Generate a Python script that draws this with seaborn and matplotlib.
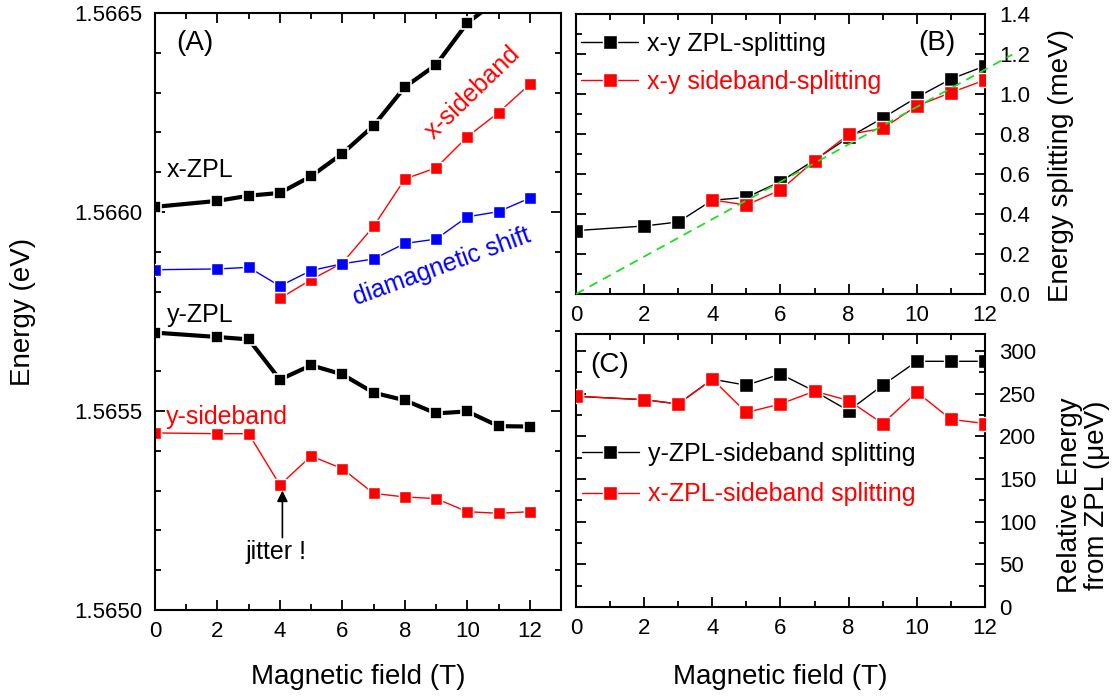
import numpy as np
import matplotlib
matplotlib.use("Agg")
import matplotlib.pyplot as plt
from matplotlib.ticker import MultipleLocator, FormatStrFormatter
import seaborn as sns

# ---- magnetic field (T) ----
field = [0, 2, 3, 4, 5, 6, 7, 8, 9, 10, 11, 12]
field_sb = [4, 5, 6, 7, 8, 9, 10, 11, 12]

# ---- (A) line energies (eV) ----
x_zpl = [1.566013, 1.566028, 1.566041, 1.566048, 1.566090, 1.566147,
         1.566217, 1.566314, 1.566370, 1.566475, 1.566535, 1.566600]
y_zpl = [1.565697, 1.565686, 1.565680, 1.565579, 1.565615, 1.565592,
         1.565546, 1.565527, 1.565494, 1.565499, 1.565462, 1.565461]
y_sideband = [1.565445, 1.565443, 1.565443, 1.565314, 1.565387, 1.565355,
              1.565293, 1.565284, 1.565280, 1.565247, 1.565243, 1.565247]
x_sideband = [1.565783, 1.565830, 1.565872, 1.565964, 1.566083, 1.566111,
              1.566189, 1.566250, 1.566321]
diamag = [1.565855, 1.565857, 1.565861, 1.565814, 1.565853, 1.565870,
          1.565882, 1.565921, 1.565932, 1.565988, 1.566001, 1.566035]

# ---- (B) x-y splittings (meV) ----
zpl_split = [0.317, 0.340, 0.360, 0.469, 0.483, 0.562,
             0.670, 0.783, 0.880, 0.983, 1.075, 1.140]
sb_split = [0.470, 0.445, 0.520, 0.667, 0.798, 0.828, 0.940, 1.007, 1.070]
fit_field = [0, 12.8]
fit_split = [0.0, 1.197]

# ---- (C) ZPL-sideband separation (ueV) ----
y_zpl_sb = [247, 243, 238, 267, 260, 273, 253, 230, 260, 288, 288, 288]
x_zpl_sb = [247, 243, 238, 267, 228, 238, 253, 242, 215, 252, 220, 215]

sns.set_theme(style="ticks")
plt.rcParams["font.family"] = ["Liberation Sans", "DejaVu Sans"]
plt.rcParams["axes.linewidth"] = 1.5
plt.rcParams["text.color"] = "black"
plt.rcParams["axes.labelcolor"] = "black"
plt.rcParams["xtick.color"] = "black"
plt.rcParams["ytick.color"] = "black"
plt.rcParams["axes.edgecolor"] = "black"

RED = "#ff0000"
BLUE = "#0000ff"
GREEN = "#22dd22"
TICK_FS = 16
LABEL_FS = 20
TEXT_FS = 18

fig = plt.figure(figsize=(11.18, 6.97), dpi=100)
axA = fig.add_axes([0.1386, 0.1248, 0.3632, 0.8565])
axB = fig.add_axes([0.5152, 0.5782, 0.3658, 0.4017])
axC = fig.add_axes([0.5152, 0.1291, 0.3658, 0.3917])


def style_ticks(ax):
    ax.tick_params(which="both", direction="in", top=True, bottom=True,
                   left=True, right=True, width=1.3, colors="black",
                   labelsize=TICK_FS)
    ax.tick_params(which="major", length=7)
    ax.tick_params(which="minor", length=4)
    for sp in ax.spines.values():
        sp.set_color("black")
        sp.set_linewidth(1.5)
    ax.set_facecolor("white")


def series(ax, xs, ys, color, lw, ms, mew, label=None, z=2):
    sns.lineplot(x=xs, y=ys, ax=ax, color=color, linewidth=lw,
                 marker="s", markersize=ms, markeredgecolor="white",
                 markeredgewidth=mew, estimator=None, sort=False,
                 label=label, zorder=z)


# ---------------- panel A ----------------
series(axA, field, x_zpl, "black", 3.0, 8.2, 1.2)
series(axA, field, y_zpl, "black", 3.0, 8.2, 1.2)
series(axA, field, y_sideband, RED, 1.0, 8.0, 1.0)
series(axA, field_sb, x_sideband, RED, 1.0, 8.0, 1.0)
series(axA, field, diamag, BLUE, 1.0, 8.0, 1.0, z=3)

axA.set_xlim(0, 13)
axA.set_ylim(1.5650, 1.5665)
axA.xaxis.set_major_locator(MultipleLocator(2))
axA.xaxis.set_minor_locator(MultipleLocator(1))
axA.yaxis.set_major_locator(MultipleLocator(0.0005))
axA.yaxis.set_minor_locator(MultipleLocator(0.0001))
axA.yaxis.set_major_formatter(FormatStrFormatter("%.4f"))
style_ticks(axA)
axA.tick_params(axis="y", pad=9)
axA.tick_params(axis="x", pad=8)
axA.set_xlabel("Magnetic field (T)", fontsize=LABEL_FS, va="center")
axA.xaxis.set_label_coords(0.5, -0.112)
axA.set_ylabel("Energy (eV)", fontsize=LABEL_FS, va="center")
axA.yaxis.set_label_coords(-0.325, 0.5)

axA.text(0.052, 0.95, "(A)", transform=axA.transAxes, fontsize=LABEL_FS,
         ha="left", va="center")
axA.text(0.029, 0.737, "x-ZPL", transform=axA.transAxes, fontsize=TEXT_FS,
         ha="left", va="center")
axA.text(0.029, 0.494, "y-ZPL", transform=axA.transAxes, fontsize=TEXT_FS,
         ha="left", va="center")
axA.text(0.027, 0.323, "y-sideband", transform=axA.transAxes,
         fontsize=TEXT_FS, color=RED, ha="left", va="center")
axA.text(0.783, 0.866, "x-sideband", transform=axA.transAxes,
         fontsize=TEXT_FS, color=RED, ha="center", va="center",
         rotation=44, rotation_mode="anchor")
axA.text(0.706, 0.575, "diamagnetic shift", transform=axA.transAxes,
         fontsize=TEXT_FS, color=BLUE, ha="center", va="center",
         rotation=20, rotation_mode="anchor")
axA.text(0.298, 0.0977, "jitter !", transform=axA.transAxes,
         fontsize=TEXT_FS, ha="center", va="center")
axA.annotate("", xy=(4.08, y_sideband[3]), xytext=(4.08, 1.565182),
             arrowprops=dict(arrowstyle="-|>", color="black", lw=1.2,
                             shrinkA=0, shrinkB=4, mutation_scale=16))

# ---------------- panel B ----------------
series(axB, field, zpl_split, "black", 1.0, 9.5, 1.0,
       label="x-y ZPL-splitting", z=2)
series(axB, field_sb, sb_split, RED, 1.0, 9.5, 1.0,
       label="x-y sideband-splitting", z=3)
sns.lineplot(x=fit_field, y=fit_split, ax=axB, color=GREEN, linewidth=1.3,
             linestyle=(0, (5, 3.5)), clip_on=False, zorder=4,
             estimator=None, sort=False)

axB.set_xlim(0, 12)
axB.set_ylim(0, 1.4)
axB.xaxis.set_major_locator(MultipleLocator(2))
axB.xaxis.set_minor_locator(MultipleLocator(1))
axB.yaxis.set_major_locator(MultipleLocator(0.2))
axB.yaxis.set_minor_locator(MultipleLocator(0.1))
axB.yaxis.set_major_formatter(FormatStrFormatter("%.1f"))
axB.yaxis.tick_right()
style_ticks(axB)
axB.tick_params(axis="y", labelleft=False, labelright=True, pad=10)
axB.tick_params(axis="x", pad=8)
axB.yaxis.set_label_position("right")
axB.set_ylabel("Energy splitting (meV)", fontsize=LABEL_FS, va="center",
               ha="center")
axB.yaxis.set_label_coords(1.185, 0.46)
axB.set_xlabel("")
axB.text(0.882, 0.896, "(B)", transform=axB.transAxes, fontsize=LABEL_FS,
         ha="center", va="center")
axB.legend(loc="upper left", bbox_to_anchor=(0.012, 0.936),
           frameon=False, fontsize=TEXT_FS, handlelength=2.3,
           handletextpad=0.35, labelspacing=0.55, borderpad=0,
           borderaxespad=0, labelcolor="linecolor", numpoints=1)

# ---------------- panel C ----------------
series(axC, field, y_zpl_sb, "black", 1.0, 9.5, 1.0,
       label="y-ZPL-sideband splitting", z=2)
series(axC, field, x_zpl_sb, RED, 1.0, 9.5, 1.0,
       label="x-ZPL-sideband splitting", z=3)

axC.set_xlim(0, 12)
axC.set_ylim(0, 320)
axC.xaxis.set_major_locator(MultipleLocator(2))
axC.xaxis.set_minor_locator(MultipleLocator(1))
axC.yaxis.set_major_locator(MultipleLocator(50))
axC.yaxis.set_minor_locator(MultipleLocator(25))
axC.yaxis.tick_right()
style_ticks(axC)
axC.tick_params(axis="y", labelleft=False, labelright=True, pad=10)
axC.tick_params(axis="x", pad=8)
axC.yaxis.set_label_position("right")
axC.set_ylabel("Relative Energy\nfrom ZPL (μeV)", fontsize=LABEL_FS,
               va="center", ha="center", linespacing=1.05)
axC.yaxis.set_label_coords(1.24, 0.41)
axC.set_xlabel("Magnetic field (T)", fontsize=LABEL_FS, va="center")
axC.xaxis.set_label_coords(0.5, -0.255)
axC.text(0.034, 0.886, "(C)", transform=axC.transAxes, fontsize=LABEL_FS,
         ha="left", va="center")
axC.legend(loc="upper left", bbox_to_anchor=(0.014, 0.604),
           frameon=False, fontsize=TEXT_FS, handlelength=2.3,
           handletextpad=0.35, labelspacing=0.65, borderpad=0,
           borderaxespad=0, labelcolor="linecolor", numpoints=1)

fig.savefig("out.png", dpi=100, facecolor="white")
